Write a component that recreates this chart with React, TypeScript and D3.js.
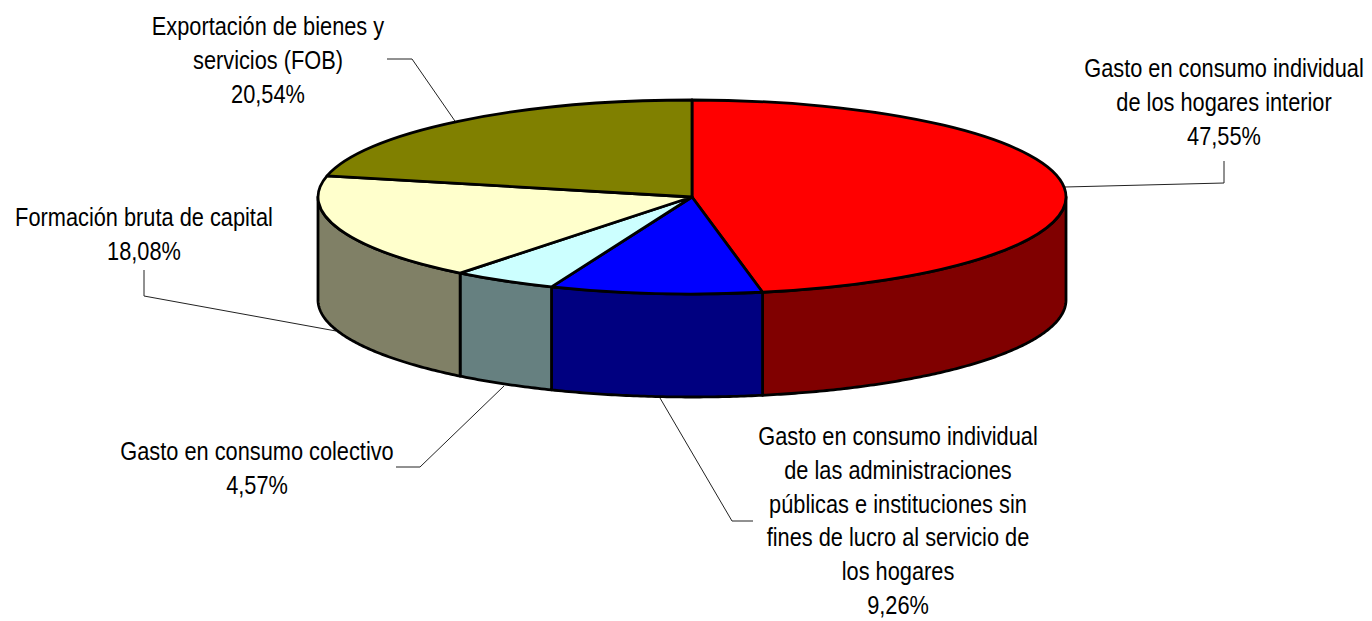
import * as d3 from 'd3'

const W = 1372
const H = 621

// slices clockwise from 12 o'clock
const names = [
  'Gasto en consumo individual de los hogares interior',
  'Gasto en consumo individual de las administraciones públicas e instituciones sin fines de lucro al servicio de los hogares',
  'Gasto en consumo colectivo',
  'Formación bruta de capital',
  'Exportación de bienes y servicios (FOB)',
]
const values = [47.55, 9.26, 4.57, 18.08, 20.54]
const valueLabels = ['47,55%', '9,26%', '4,57%', '18,08%', '20,54%']
const topColors = ['#ff0000', '#0000ff', '#ccffff', '#ffffcc', '#808000']
const sideColors = ['#800000', '#000080', '#668080', '#808066', '#404000']

// how each name wraps in the picture
const wrapped = [
  ['Gasto en consumo individual', 'de los hogares interior'],
  ['Gasto en consumo individual', 'de las administraciones', 'públicas e instituciones sin', 'fines de lucro al servicio de', 'los hogares'],
  ['Gasto en consumo colectivo'],
  ['Formación bruta de capital'],
  ['Exportación de bienes y', 'servicios (FOB)'],
]

// label anchor (centre x, first baseline) and leader polyline for each slice
const labelPos = [
  { x: 1224, y: 77 },
  { x: 898, y: 445 },
  { x: 257, y: 460 },
  { x: 144, y: 226 },
  { x: 268, y: 35 },
]
const leaders = [
  [[1065, 187], [1224, 183], [1224, 161]],
  [[660, 398], [732, 521], [753, 521]],
  [[504, 386], [420, 467], [396, 467]],
  [[336, 331], [144, 296], [144, 270]],
  [[457, 124], [412, 59], [387, 59]],
]

const CX = 692
const CY = 197
const RX = 374
const RY = 97
const DEPTH = 103
const FONT = 25
const SQUEEZE = 0.871
const LINE_H = 33.8
const EDGE = 2.8

// the 3D view foreshortens the angles a little
const TAU = 2 * Math.PI
const warp = (a: number) => (a >= TAU - 1e-6 ? a : a * 0.988)

const pie = d3.pie<number>().sort(null)(values)
const slices = pie.map((p, i) => ({ ...p, i, a0: warp(p.startAngle), a1: warp(p.endAngle) }))

const arc = d3.arc<any>()
  .innerRadius(0)
  .outerRadius(RX)
  .startAngle(d => d.a0)
  .endAngle(d => d.a1)

const pt = (a: number, dy = 0): [number, number] => [
  CX + RX * Math.sin(a),
  CY - RY * Math.cos(a) + dy,
]

// wall of a slice, only the front half of the ellipse is visible
function wallPath(a0: number, a1: number) {
  const from = Math.max(a0, Math.PI / 2)
  const to = Math.min(a1, (3 * Math.PI) / 2)
  if (to <= from) return null
  const n = Math.ceil((to - from) / 0.01)
  const angles = d3.range(n + 1).map(k => from + ((to - from) * k) / n)
  const top = angles.map(a => pt(a))
  const bottom = angles.slice().reverse().map(a => pt(a, DEPTH))
  return d3.line()([...top, ...bottom]) + 'Z'
}

const leaderLine = d3.line()

export default function App() {
  return (
    <svg
      width={W}
      height={H}
      viewBox={`0 0 ${W} ${H}`}
      style={{ position: 'absolute', left: 0, top: 0, background: '#fff' }}
    >
      {leaders.map((l, i) => (
        <path key={i} d={leaderLine(l as [number, number][]) as string} fill="none" stroke="#222" strokeWidth={1} />
      ))}

      {slices.map(s => {
        const d = wallPath(s.a0, s.a1)
        return d ? (
          <path key={s.i} d={d} fill={sideColors[s.i]} stroke="#000" strokeWidth={EDGE} strokeLinejoin="round" />
        ) : null
      })}

      <g transform={`translate(${CX},${CY}) scale(1,${RY / RX})`}>
        {slices.map(s => (
          <path
            key={s.i}
            d={arc(s) as string}
            fill={topColors[s.i]}
            stroke="#000"
            strokeWidth={EDGE}
            strokeLinejoin="round"
            vectorEffect="non-scaling-stroke"
          />
        ))}
      </g>

      {names.map((name, i) => (
        <g key={name} fontFamily="'Liberation Sans', Arial, sans-serif" fontSize={FONT} fill="#000" textAnchor="middle">
          {[...wrapped[i], valueLabels[i]].map((line, j) => (
            <text
              key={j}
              transform={`translate(${labelPos[i].x},${labelPos[i].y + j * LINE_H}) scale(${SQUEEZE},1)`}
            >
              {line}
            </text>
          ))}
        </g>
      ))}
    </svg>
  )
}
